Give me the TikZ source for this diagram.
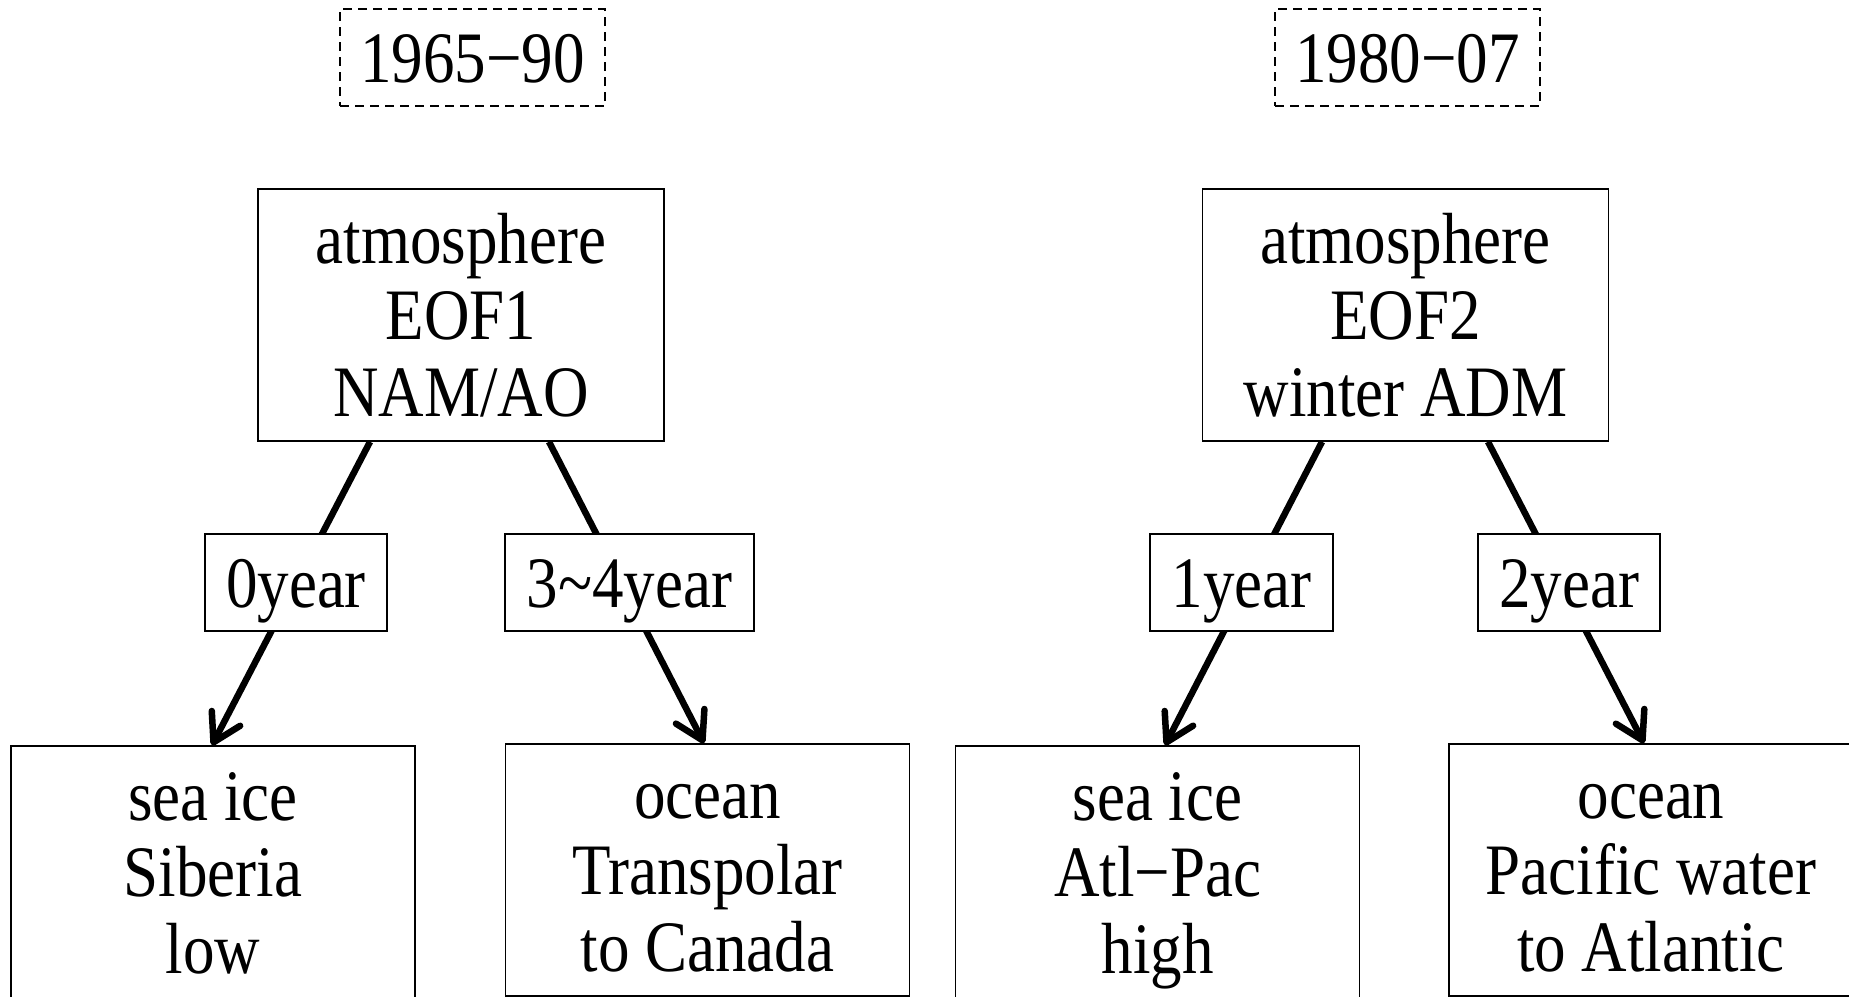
\documentclass[tikz,border=0pt]{standalone}
\usepackage{fontspec}
\setmainfont{Liberation Serif}
\usepackage{graphicx}
\usetikzlibrary{arrows.meta,calc}
\newcommand\vtext[1]{\raisebox{-9.5pt}[\height][\depth]{\scalebox{1}[1.15]{\begin{tabular}{@{}c@{}}#1\end{tabular}}}}
\begin{document}
\begin{tikzpicture}[x=1pt,y=-1pt,
  box/.style={draw, line width=1.6pt, fill=white, inner sep=0pt,
    font=\fontsize{63}{66.5}\selectfont},
  datebox/.style={box, dash pattern=on 9pt off 6pt, minimum width=265pt, minimum height=97pt},
  atmbox/.style={box, minimum width=406pt, minimum height=252pt},
  yearbox/.style={box, minimum height=97pt},
  resbox/.style={box, minimum width=404pt, minimum height=252pt},
  conn/.style={line width=6.5pt, -{Straight Barb[length=27pt,width=32pt,round]}}]
\useasboundingbox (0,0) rectangle (1849,996);

% periods
\node[datebox] (dL) at (472.5,57.5) {\vtext{1965−90}};
\node[datebox] (dR) at (1407.5,57.5) {\vtext{1980−07}};

% atmosphere
\node[atmbox] (atmL) at (461,315) {\vtext{atmosphere\\EOF1\\NAM/AO}};
\node[atmbox] (atmR) at (1405.5,315) {\vtext{atmosphere\\EOF2\\winter ADM}};

% responses
\node[resbox] (seaL) at (213,872) {\vtext{sea ice\\Siberia\\low}};
\node[resbox] (ocL) at (707.5,870) {\vtext{ocean\\Transpolar\\to Canada}};
\node[resbox] (seaR) at (1157.5,872) {\vtext{sea ice\\Atl−Pac\\high}};
\node[resbox] (ocR) at (1651,870) {\vtext{ocean\\Pacific water\\to Atlantic}};

% connector end points
\coordinate (sL1) at ($(atmL.south)+(-91,0)$);
\coordinate (sL2) at ($(atmL.south)+(88,0)$);
\coordinate (sR1) at ($(atmR.south)+(-83.5,0)$);
\coordinate (sR2) at ($(atmR.south)+(82.5,0)$);
\coordinate (eL1) at ($(seaL.north)+(-1,0)$);
\coordinate (eL2) at ($(ocL.north)+(-3.5,0)$);
\coordinate (eR1) at ($(seaR.north)+(7.5,0)$);
\coordinate (eR2) at ($(ocR.north)+(-7,0)$);

\draw[conn] (sL1) -- (eL1);
\draw[conn] (sL2) -- (eL2);
\draw[conn] (sR1) -- (eR1);
\draw[conn] (sR2) -- (eR2);

% lags
\node[yearbox, minimum width=182pt] (y0) at (296,582.5) {\vtext{0year}};
\node[yearbox, minimum width=249pt] (y34) at (629.5,582.5) {\vtext{3\textasciitilde4year}};
\node[yearbox, minimum width=183pt] (y1) at (1241.5,582.5) {\vtext{1year}};
\node[yearbox, minimum width=182pt] (y2) at (1569,582.5) {\vtext{2year}};
\end{tikzpicture}
\end{document}
